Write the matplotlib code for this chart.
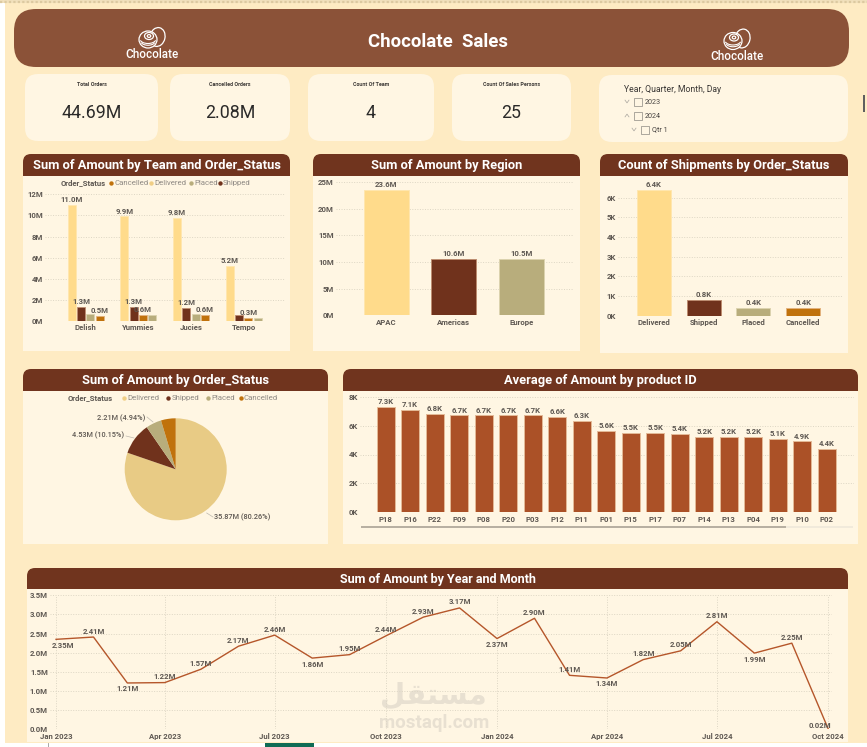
"""Chocolate sales dashboard drawn as a single matplotlib figure."""

import matplotlib

matplotlib.use("Agg", force=True)
import matplotlib.pyplot as plt
import pandas as pd
from matplotlib.patches import Arc, Ellipse, FancyBboxPatch, Rectangle

W, H = 867, 747

TEAMS = ["Delish", "Yummies", "Jucies", "Tempo"]
TEAM_DELIVERED = [11.0, 9.9, 9.8, 5.2]
TEAM_SHIPPED = [1.3, 1.3, 1.2, 0.6]
TEAM_PLACED = [0.7, 0.55, 0.7, 0.28]
TEAM_CANCELLED = [0.5, 0.6, 0.6, 0.3]

REGIONS = ["APAC", "Americas", "Europe"]
REGION_AMOUNT = [23.6, 10.6, 10.5]

STATUSES = ["Delivered", "Shipped", "Placed", "Cancelled"]
SHIPMENT_COUNT = [6.4, 0.8, 0.4, 0.4]
STATUS_AMOUNT = [35.87, 4.53, 2.21, 2.08]
STATUS_SHARE = [80.26, 10.15, 4.94, 4.65]

PRODUCTS = ["P18", "P16", "P22", "P09", "P08", "P20", "P03", "P12", "P11", "P01",
            "P15", "P17", "P07", "P14", "P13", "P04", "P19", "P10", "P02"]
PRODUCT_AVG = [7.3, 7.1, 6.8, 6.7, 6.7, 6.7, 6.7, 6.6, 6.3, 5.6,
               5.5, 5.5, 5.4, 5.2, 5.2, 5.2, 5.1, 4.9, 4.4]

MONTHLY = [2.35, 2.41, 1.21, 1.22, 1.57, 2.17, 2.46, 1.86, 1.95, 2.44, 2.93,
           3.17, 2.37, 2.90, 1.41, 1.34, 1.82, 2.05, 2.81, 1.99, 2.25, 0.02]
MONTHLY_BELOW = {"2.35", "1.21", "1.86", "2.37", "1.34", "1.99"}

KPI_CARDS = [("Total Orders", "44.69M"), ("Cancelled Orders", "2.08M"),
             ("Count Of Team", "4"), ("Count Of Sales Persons", "25")]

PAGE = "#FEEBC3"
PANEL = "#FFF6E3"
HEADER = "#70341E"
BANNER = "#8B5238"
TEXT = "#5E5852"
GRID = "#DDD6C4"
WATERMARK = "#E8E0D1"
STATUS_COLORS = {"Delivered": "#FFDB8B", "Shipped": "#70321C",
                 "Placed": "#B8AD7C", "Cancelled": "#C0720C"}
STATUS_EDGES = {"Delivered": "#FFE6AE", "Shipped": "#BD8C70",
                "Placed": "#DCD3AE", "Cancelled": "#E3B27E"}

plt.rcParams["font.family"] = ["Roboto", "DejaVu Sans"]

fig = plt.figure(figsize=(W / 100, H / 100), dpi=100, facecolor="white")

# Full-figure layer in pixel units, top-left origin, for cards and loose text.
bg = fig.add_axes([0, 0, 1, 1], zorder=0)
bg.set_xlim(0, W)
bg.set_ylim(H, 0)
bg.axis("off")


def px_axes(left, top, right, bottom):
    ax = fig.add_axes([left / W, 1 - bottom / H, (right - left) / W, (bottom - top) / H], zorder=2)
    ax.patch.set_alpha(0)
    for spine in ax.spines.values():
        spine.set_visible(False)
    ax.tick_params(length=0, pad=1.5, labelsize=5.6, labelcolor=TEXT)
    return ax


def round_box(left, top, right, bottom, radius, color):
    bg.add_patch(FancyBboxPatch((left + radius, top + radius),
                                right - left - 2 * radius, bottom - top - 2 * radius,
                                boxstyle=f"round,pad={radius},rounding_size={radius}",
                                fc=color, ec="none"))


def panel(left, top, right, bottom, header_bottom, title, size=9.3):
    round_box(left, top, right, header_bottom + 9, 8, HEADER)
    bg.add_patch(Rectangle((left, header_bottom), right - left, bottom - header_bottom, fc=PANEL, ec="none"))
    bg.text((left + right) / 2, (top + header_bottom) / 2 + 0.5, title, color="white",
            fontsize=size, fontweight="bold", ha="center", va="center")


def legend(y, head_x, entries):
    bg.text(head_x, y, "Order_Status", color=TEXT, fontsize=5.6, fontweight="bold", va="center")
    for name, dot_x in entries:
        bg.scatter([dot_x], [y], s=10, color=STATUS_COLORS[name] if name != "Delivered" else "#F0CE85", lw=0)
        bg.text(dot_x + 3.2, y, name, color="#8F8A84", fontsize=5.6, va="center")


def style_bars(ax, ticks, ylabels, ylim):
    ax.set_ylim(*ylim)
    ax.set_yticks(ticks, ylabels, fontweight="bold")
    ax.grid(axis="y", color=GRID, lw=0.7, ls=(0, (1, 1.6)))
    ax.set_axisbelow(True)
    ax.tick_params(axis="x", pad=2.5)


def bar_label(ax, x, y, text, size=5.6):
    ax.annotate(text, (x, y), xytext=(0, 1.4), textcoords="offset points", ha="center", va="bottom",
                color=TEXT, fontsize=size, fontweight="bold", annotation_clip=False)


def logo(cx, cy, text_y):
    line = dict(fc="none", ec="white", lw=0.9)
    # back truffle first, then the front one hides the overlap
    bg.add_patch(Ellipse((cx + 9.5, cy - 2.5), 15, 19, angle=12, **line))
    bg.add_patch(Ellipse((cx, cy), 18, 17, fc=BANNER, ec="white", lw=0.9))
    bg.add_patch(Ellipse((cx + 1, cy - 3.5), 9, 7, **line))
    bg.add_patch(Ellipse((cx + 1, cy - 3.5), 3.5, 2.8, **line))
    bg.add_patch(Arc((cx, cy - 0.5), 16, 9, theta1=10, theta2=170, ec="white", lw=0.8))
    bg.add_patch(Arc((cx, cy + 2), 14, 7.5, theta1=10, theta2=170, ec="white", lw=0.8))
    bg.text(cx + 4, text_y, "Chocolate", color="white", fontsize=8.4, fontweight="medium", ha="center", va="center")


def chevron(x, y, up):
    tip = -1.4 if up else 1.4
    bg.plot([x - 2, x, x + 2], [y - tip, y + tip, y - tip], color="#A8A49D", lw=0.5)


# Page chrome
bg.add_patch(Rectangle((5, 3), W - 5, 740, fc=PAGE, ec="none"))
bg.add_patch(Rectangle((0, 0), W, 3, fc="#F1E0BC", ec="none"))
bg.plot([0, W], [1.5, 1.5], color="#DCC9A0", lw=1.6, ls=(0, (1, 1)))
bg.add_patch(Rectangle((265, 743), 49, 4, fc="#0F6B55", ec="none"))
bg.plot([48, 48], [743, 747], color="#999999", lw=0.6)
bg.add_patch(Rectangle((862.5, 95), 2, 17, fc="#5F5F5F", ec="none"))

# Banner
round_box(14, 9, 849, 67, 22, BANNER)
bg.text(438, 42, "Chocolate  Sales", color="white", fontsize=13.4, fontweight="bold", ha="center", va="center")
logo(148, 39.5, 55)
logo(733, 41, 57)

# KPI cards
for (name, value), (left, right) in zip(KPI_CARDS, [(25, 158), (170, 290), (308, 434), (452, 571)]):
    round_box(left, 74, right, 141, 13, PANEL)
    bg.text((left + right) / 2, 84.5, name, color="#3F3B38", fontsize=3.9, fontweight="bold", ha="center", va="center")
    bg.text((left + right) / 2, 113.5, value, color="#2B2A29", fontsize=12.8, ha="center", va="center")

# Date hierarchy slicer
round_box(599, 75, 848, 142, 13, PANEL)
bg.text(624, 90, "Year, Quarter, Month, Day", color="#3A3735", fontsize=6.2, va="center")
for y, box_x, label, up in [(102, 634, "2023", False), (116, 634, "2024", True), (130, 641, "Qtr 1", False)]:
    bg.add_patch(Rectangle((box_x, y - 3.8), 7.6, 7.6, fc="none", ec="#8C8880", lw=0.5))
    bg.text(box_x + 11, y, label, color="#4A4643", fontsize=5.2, va="center")
    chevron(box_x - 7, y - 0.5, up)

# Sum of Amount by Team and Order_Status: each team's bars run largest to smallest
panel(23, 154, 290, 351, 176, "Sum of Amount by Team and Order_Status")
legend(182.7, 61, [("Cancelled", 111), ("Delivered", 150.7), ("Placed", 190.7), ("Shipped", 219.7)])
ax = px_axes(45, 194.3, 285, 321)
team_series = {"Delivered": TEAM_DELIVERED, "Shipped": TEAM_SHIPPED,
               "Placed": TEAM_PLACED, "Cancelled": TEAM_CANCELLED}
for i, team in enumerate(TEAMS):
    ranked = sorted(team_series, key=lambda s: team_series[s][i], reverse=True)
    for rank, status in enumerate(ranked):
        value = team_series[status][i]
        x = i + (rank - 1.5) * 0.177
        ax.bar(x, value, width=0.152, color=STATUS_COLORS[status], edgecolor=STATUS_EDGES[status], lw=0.6, zorder=3)
        if status != "Placed" and not (team == "Tempo" and status == "Shipped"):
            bar_label(ax, x, value, f"{value:.1f}M")
ax.set_xlim(-0.772, 3.782)
ax.set_xticks(range(len(TEAMS)), TEAMS, fontweight="bold")
style_bars(ax, [0, 2, 4, 6, 8, 10, 12], [f"{v}M" for v in [0, 2, 4, 6, 8, 10, 12]], (0, 12))

# Sum of Amount by Region
panel(313, 154, 580, 351, 176, "Sum of Amount by Region")
ax = px_axes(336, 182.3, 574, 315.3)
ax.bar(range(3), REGION_AMOUNT, width=0.667, zorder=3,
       color=[STATUS_COLORS[s] for s in ("Delivered", "Shipped", "Placed")],
       edgecolor=[STATUS_EDGES[s] for s in ("Delivered", "Shipped", "Placed")], lw=0.7)
for i, value in enumerate(REGION_AMOUNT):
    bar_label(ax, i, value, f"{value:.1f}M")
ax.set_xlim(-0.748, 2.78)
ax.set_xticks(range(3), REGIONS, fontweight="bold")
style_bars(ax, range(0, 30, 5), [f"{v}M" for v in range(0, 30, 5)], (0, 25))

# Count of Shipments by Order_Status
panel(600, 154, 848, 353, 176, "Count of Shipments by Order_Status")
ax = px_axes(618, 184, 843, 315.7)
ax.bar(range(4), SHIPMENT_COUNT, width=0.683, zorder=3,
       color=[STATUS_COLORS[s] for s in STATUSES], edgecolor=[STATUS_EDGES[s] for s in STATUSES], lw=0.7)
for i, value in enumerate(SHIPMENT_COUNT):
    bar_label(ax, i, value, f"{value:.1f}K")
ax.set_xlim(-0.72, 3.8)
ax.set_xticks(range(4), STATUSES, fontweight="bold")
style_bars(ax, range(7), [f"{v}K" for v in range(7)], (0, 6.7))

# Sum of Amount by Order_Status
panel(23, 369, 328, 544, 391, "Sum of Amount by Order_Status")
legend(398, 68, [("Delivered", 124), ("Shipped", 168), ("Placed", 207.7), ("Cancelled", 240.7)])
pie_ax = fig.add_axes([(175.7 - 51) / W, 1 - (469.3 + 51) / H, 102 / W, 102 / H], zorder=2)
pie_colors = ["#E8CB85", STATUS_COLORS["Shipped"], STATUS_COLORS["Placed"], STATUS_COLORS["Cancelled"]]
pie_ax.pie(STATUS_AMOUNT, colors=pie_colors, startangle=90, counterclock=False, radius=1,
           wedgeprops=dict(lw=0))
pie_ax.set_xlim(-1, 1)
pie_ax.set_ylim(-1, 1)
pie_labels = [(0, 214, 517, "left", (213, 517), (206.7, 513)),
              (1, 124, 435.7, "right", (126, 436), (134, 438)),
              (2, 145, 418, "right", (147, 417), (153, 422))]
for i, tx, ty, ha, start, end in pie_labels:
    bg.plot([start[0], end[0]], [start[1], end[1]], color="#BDB8AE", lw=0.5)
    bg.text(tx, ty, f"{STATUS_AMOUNT[i]:.2f}M ({STATUS_SHARE[i]:.2f}%)",
            color=TEXT, fontsize=5.3, fontweight="medium", ha=ha, va="center")

# Average of Amount by product ID
panel(343, 369, 858, 544, 391, "Average of Amount by product ID")
ax = px_axes(360.4, 396.7, 853.5, 512.3)
ax.bar(range(len(PRODUCTS)), PRODUCT_AVG, width=0.735, color="#AB5127", edgecolor="#E3B996", lw=0.7, zorder=3)
for i, value in enumerate(PRODUCT_AVG):
    bar_label(ax, i, value, f"{value:.1f}K")
ax.set_xlim(-1.03, 19.09)
ax.set_xticks(range(len(PRODUCTS)), PRODUCTS, fontweight="bold")
style_bars(ax, range(0, 10, 2), [f"{v}K" for v in range(0, 10, 2)], (0, 8))
bg.add_patch(Rectangle((361, 525.8), 492, 1.8, fc="#F1EADB", ec="none"))
bg.add_patch(Rectangle((361, 525.8), 424.5, 1.8, fc="#B8B0A2", ec="none"))

# Sum of Amount by Year and Month
panel(27, 568, 848, 742, 589, "Sum of Amount by Year and Month", size=9)
bg.text(433.5, 696, "\ufee3\ufeb4\ufe98\ufed8\ufede"[::-1], family="DejaVu Sans", color=WATERMARK,
        fontsize=21, fontweight="bold", ha="center", va="center")
bg.text(434, 723, "mostaql.com", color=WATERMARK, fontsize=13.5, fontweight="bold", ha="center", va="center")
ax = px_axes(50, 595.3, 831.7, 729.3)
months = pd.date_range("2023-01-01", periods=len(MONTHLY), freq="MS")
ax.plot(months, MONTHLY, color="#B5562A", lw=1.0, zorder=3)
for n, (month, value) in enumerate(zip(months, MONTHLY)):
    text = f"{value:.2f}"
    dx = 0
    if text in MONTHLY_BELOW:
        dy = -4.3
    elif value < 0.1:
        dy = 2.0
    else:
        dy = 4.3
    # the two end labels are pushed inward so they stay inside the plot
    if n == 0:
        dx = 4.8
    elif n == len(MONTHLY) - 1:
        dx = -5.5
    ax.annotate(f"{text}M", (month, value), xytext=(dx, dy), textcoords="offset points",
                ha="center", va="center", color=TEXT, fontsize=5.6, fontweight="bold", zorder=4)
quarter_ticks = months[::3]
ax.set_xlim(months[0] - pd.Timedelta(days=5), months[-1] + pd.Timedelta(days=3))
ax.set_xticks(quarter_ticks, [d.strftime("%b %Y") for d in quarter_ticks], fontweight="bold")
ax.set_ylim(0, 3.5)
ax.set_yticks([i * 0.5 for i in range(8)], [f"{i * 0.5:.1f}M" for i in range(8)], fontweight="bold")
ax.grid(axis="both", color=GRID, lw=0.7, ls=(0, (1, 1.6)))
ax.set_axisbelow(True)
ax.tick_params(axis="x", pad=2.6)

fig.savefig("out.png", dpi=100, facecolor=fig.get_facecolor())
plt.close(fig)
